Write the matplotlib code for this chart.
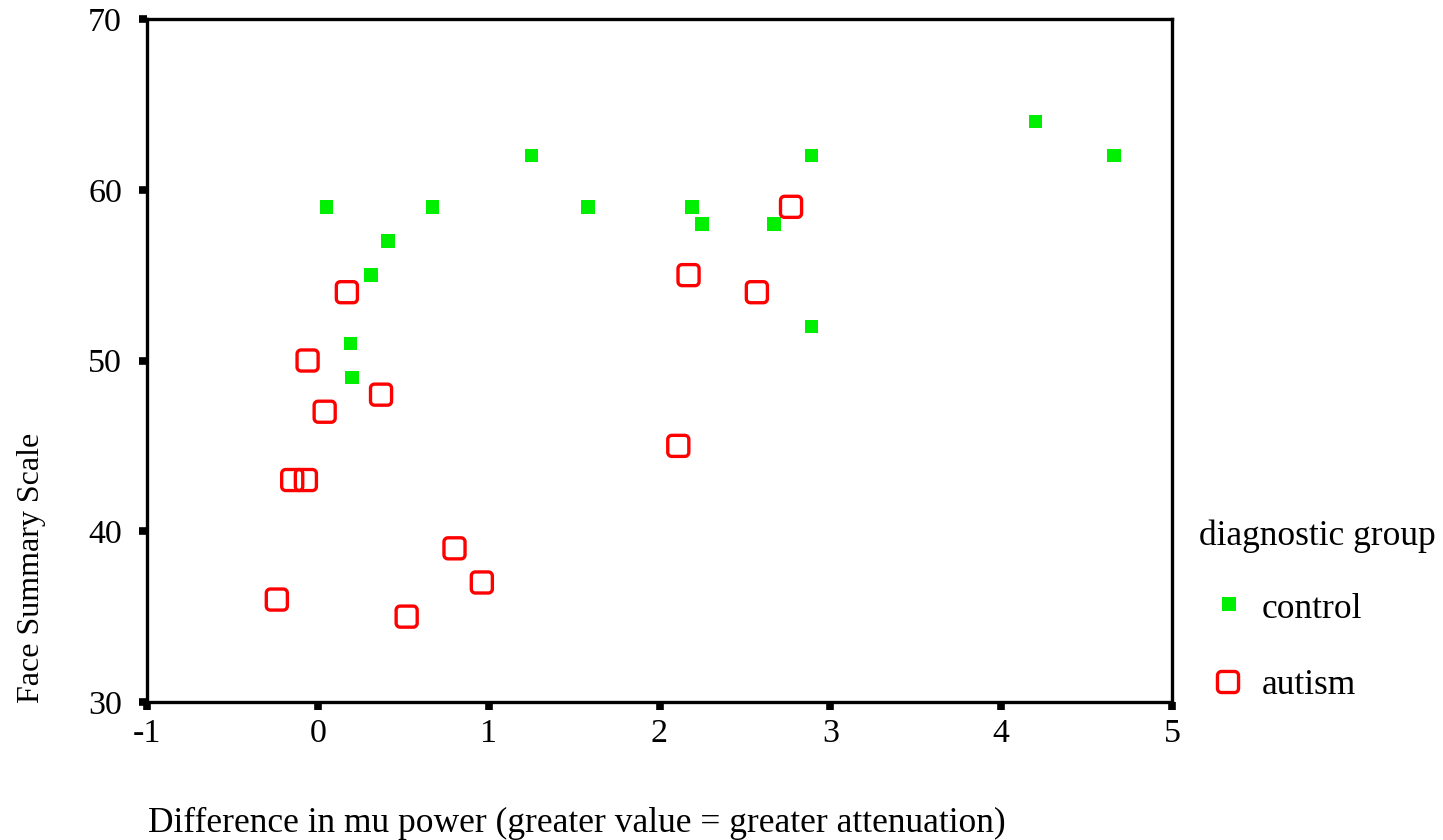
import numpy as np
import matplotlib
matplotlib.use("Agg")
import matplotlib.pyplot as plt
from matplotlib.path import Path

plt.rcParams['font.family'] = ['Liberation Serif', 'DejaVu Serif']

# Data
control_x = [0.05, 0.67, 1.25, 1.58, 2.19, 2.25, 2.67, 2.89, 2.89, 4.20, 4.66, 0.41, 0.31, 0.19, 0.20]
control_y = [59, 59, 62, 59, 59, 58, 58, 62, 52, 64, 62, 57, 55, 51, 49]
autism_x = [0.17, -0.06, 0.37, 0.04, -0.15, -0.07, -0.24, 0.52, 0.80, 0.96, 2.11, 2.17, 2.57, 2.77]
autism_y = [54, 50, 48, 47, 43, 43, 36, 35, 39, 37, 45, 55, 54, 59]
x_ticks = [-1, 0, 1, 2, 3, 4, 5]
y_ticks = [30, 40, 50, 60, 70]
x_label = "Difference in mu power (greater value = greater attenuation)"
y_label = "Face Summary Scale"
legend_title = "diagnostic group"
group_names = ["control", "autism"]

# rounded square marker
def rounded_square(r=0.38, n=8):
    verts = []
    centers = [(1 - r, 1 - r, 0), (-1 + r, 1 - r, 90), (-1 + r, -1 + r, 180), (1 - r, -1 + r, 270)]
    for cx, cy, a0 in centers:
        for t in np.linspace(np.radians(a0), np.radians(a0 + 90), n):
            verts.append((cx + r * np.cos(t), cy + r * np.sin(t)))
    verts.append(verts[0])
    codes = [Path.MOVETO] + [Path.LINETO] * (len(verts) - 2) + [Path.CLOSEPOLY]
    return Path(verts, codes)

rsq = rounded_square()

fig = plt.figure(figsize=(14.43, 8.40), dpi=100)
ax = fig.add_axes([147 / 1443, 138 / 840, (1172 - 147) / 1443, (702 - 19) / 840])

ax.scatter(control_x, control_y, marker='s', s=95, color='#00ee00', edgecolors='none', zorder=3)
ax.scatter(autism_x, autism_y, marker=rsq, s=230, facecolors='none', edgecolors='#ff0000', linewidths=2.4, zorder=3)

ax.set_xlim(-1, 5)
ax.set_ylim(30, 70)
ax.set_xticks(x_ticks)
ax.set_yticks(y_ticks)
ax.set_xticklabels([str(v) for v in x_ticks])
ax.set_yticklabels([str(v) for v in y_ticks])
for s in ax.spines.values():
    s.set_linewidth(2.4)
ax.tick_params(axis='y', direction='out', length=6, width=5.5, labelsize=24.5, colors='black', pad=12)
ax.tick_params(axis='x', direction='out', length=6, width=5.5, labelsize=24.5, colors='black', pad=6)

fig.text(148 / 1443, 1 - 823 / 840, x_label, fontsize=25.5, ha='left', va='center')
fig.text(32 / 1443, 1 - 703 / 840, y_label, fontsize=23, rotation=90, ha='center', va='bottom')

# legend
fig.text(1199 / 1443, 1 - 536 / 840, legend_title, fontsize=25.5, ha='left', va='center')
lax = fig.add_axes([0, 0, 1, 1], facecolor='none')
lax.set_xlim(0, 1443)
lax.set_ylim(840, 0)
lax.axis('off')
lax.scatter([1229], [604], marker='s', s=95, color='#00ee00', edgecolors='none')
lax.scatter([1228], [682], marker=rsq, s=230, facecolors='none', edgecolors='#ff0000', linewidths=2.4)
fig.text(1262 / 1443, 1 - 609 / 840, group_names[0], fontsize=25.5, ha='left', va='center')
fig.text(1262 / 1443, 1 - 686 / 840, group_names[1], fontsize=25.5, ha='left', va='center')

fig.savefig("out.png", dpi=100, facecolor='white')
